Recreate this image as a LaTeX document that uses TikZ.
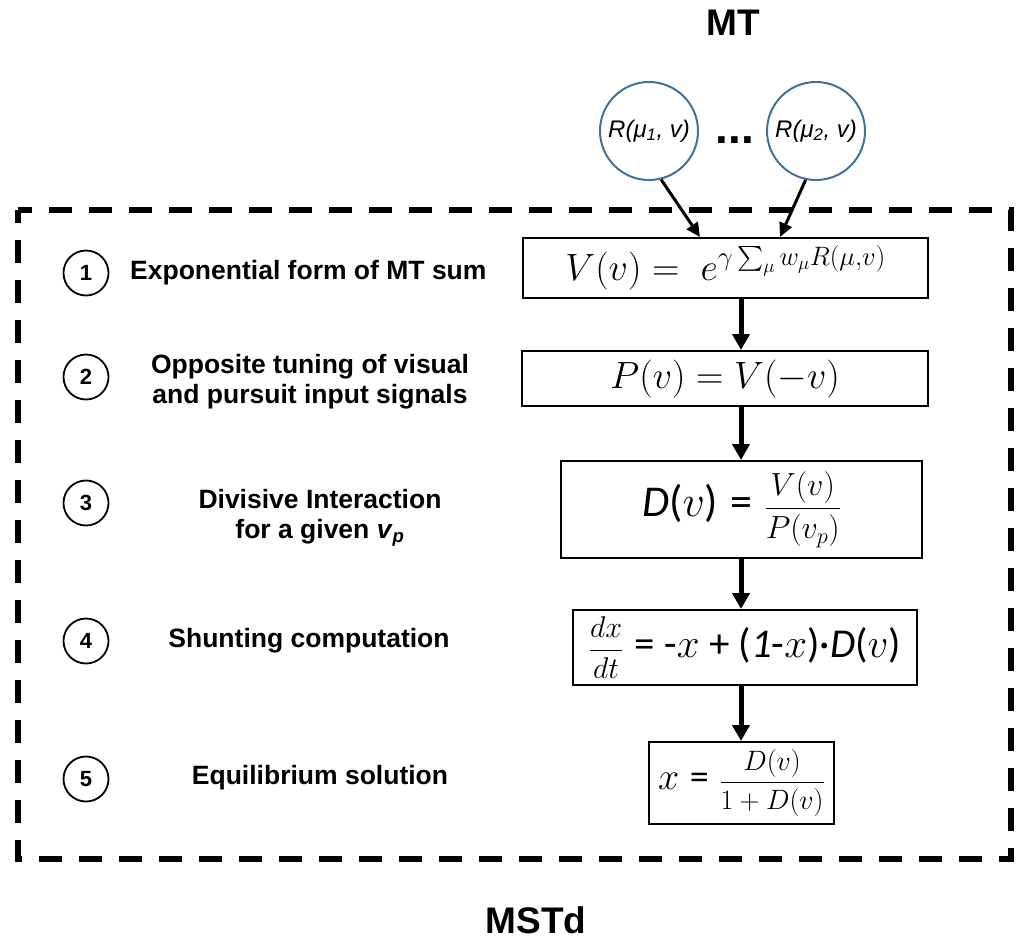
\RequirePackage{fix-cm}
\documentclass[tikz,border=0pt]{standalone}
\usepackage{amsmath}
\usepackage{fontspec}
\setmainfont{Liberation Sans}
\newfontfamily\carl{Carlito}
\usetikzlibrary{arrows.meta}
\definecolor{mtblue}{RGB}{65,113,156}
\begin{document}
\begin{tikzpicture}[x=1pt,y=-1pt,
  eqbox/.style={draw, line width=2pt, inner sep=0pt, anchor=center},
  numc/.style={draw, circle, line width=1.8pt, minimum size=45pt, inner sep=0pt, font=\fontsize{22}{26}\selectfont\bfseries},
  lbl/.style={font=\fontsize{26.5}{30}\selectfont\bfseries, align=center, inner sep=0pt},
  mtc/.style={draw=mtblue, circle, line width=2pt, minimum size=98pt, inner sep=0pt, font=\fontsize{24}{28}\selectfont\itshape},
  title/.style={font=\fontsize{37}{40}\selectfont\bfseries, inner sep=0pt},
  flow/.style={line width=5pt, -{Triangle[length=16pt,width=17pt]}},
  feed/.style={line width=3pt, -{Triangle[length=14pt,width=13pt]}},
  eqfont/.style={font=\fontsize{38}{44}\selectfont}
]
\useasboundingbox (0,0) rectangle (1016,940);

% titles
\node[title] (mt) at (733,23) {MT};
\node[title] (mstd) at (536,920) {MSTd};

% MT cells
\node[mtc] (c1) at (649,131) {R(μ\textsubscript{1}, v)};
\node[mtc] (c2) at (816,131) {R(μ\textsubscript{2}, v)};
\node[font=\fontsize{46}{46}\selectfont\bfseries, inner sep=0pt] (dots) at (735,140) {...};

% dashed MSTd frame
\draw[line width=6pt, dash pattern=on 23pt off 17pt, dash phase=10pt] (18,210) rectangle (1011,859);

% equation boxes
\node[eqbox, eqfont, minimum width=405pt, minimum height=60pt] (b1) at (725.5,268)
  {$V(v) =\; e^{\gamma\sum_{\mu} w_{\mu}R(\mu,v)}$};
\node[eqbox, eqfont, minimum width=406pt, minimum height=55pt] (b2) at (725,378.5)
  {$P(v) = V(-v)$};
\node[eqbox, minimum width=361pt, minimum height=97pt, font=\fontsize{44}{50}\selectfont] (b3) at (741.5,509.5)
  {{\carl\itshape D}{\carl(}$v${\carl)} {\carl =} {\fontsize{32}{36}\selectfont$\dfrac{V(v)}{P(v_p)}$}};
\node[eqbox, minimum width=344pt, minimum height=75pt, font=\fontsize{41}{46}\selectfont] (b4) at (745,647.5)
  {{\fontsize{30}{34}\selectfont$\dfrac{dx}{dt}$} {\carl = -}$x${\carl\ + (\textit{1}-}$x${\carl )·\textit{D}(}$v${\carl )}};
\node[eqbox, minimum width=185pt, minimum height=82pt, font=\fontsize{38}{44}\selectfont] (b5) at (741.5,783)
  {$x$ {\carl =} {\fontsize{28}{32}\selectfont$\dfrac{D(v)}{1+D(v)}$}};

% step numbers and labels
\node[numc] (n1) at (86,273) {1};
\node[numc] (n2) at (86,377) {2};
\node[numc] (n3) at (86,503) {3};
\node[numc] (n4) at (86,641) {4};
\node[numc] (n5) at (86,779) {5};
\node[lbl, anchor=west] (l1) at (130,273) {Exponential form of MT sum};
\node[lbl] (l2) at (310,382) {Opposite tuning of visual\\and pursuit input signals};
\node[lbl] (l3) at (320,518) {Divisive Interaction\\for a given \textit{v}\textsubscript{\textit{p}}};
\node[lbl] (l4) at (309,641) {Shunting computation};
\node[lbl] (l5) at (320,778) {Equilibrium solution};

% connectors
\coordinate (col) at (741,0);
\coordinate (t1) at (700,0);
\coordinate (t2) at (780,0);
\draw[feed] (c1.-76) -- (b1.north -| t1);
\draw[feed] (c2.-102) -- (b1.north -| t2);
\draw[flow] (b1.south -| col) -- (b2.north -| col);
\draw[flow] (b2.south -| col) -- (b3.north -| col);
\draw[flow] (b3.south -| col) -- (b4.north -| col);
\draw[flow] (b4.south -| col) -- (b5.north -| col);
\end{tikzpicture}
\end{document}
